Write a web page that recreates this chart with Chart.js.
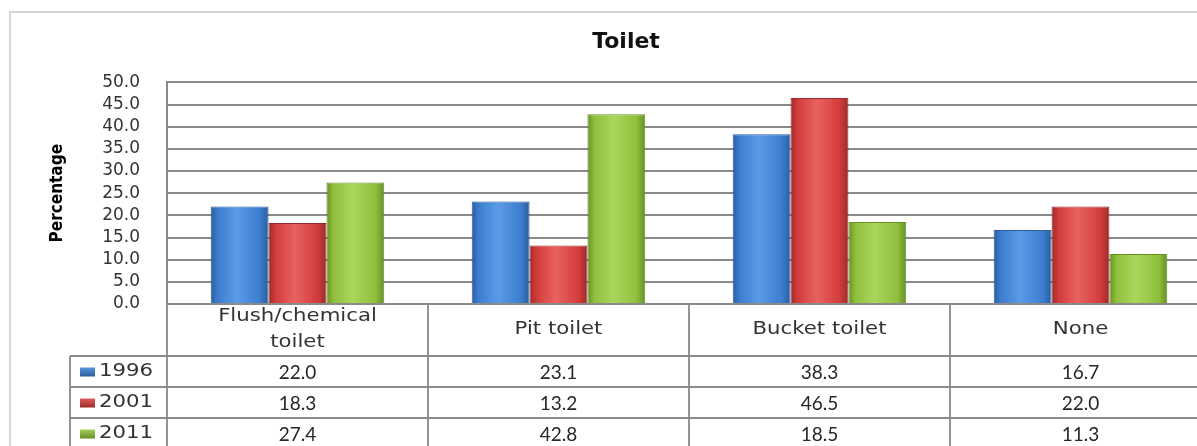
<!DOCTYPE html>
<html>
<head>
<meta charset="utf-8">
<script src="https://cdn.jsdelivr.net/npm/chart.js@4/dist/chart.umd.min.js"></script>
<style>
  html, body { margin: 0; padding: 0; background: #fff; overflow: hidden; }
  #wrap { width: 1197px; height: 446px; overflow: hidden; }
</style>
</head>
<body>
<div id="wrap"><canvas id="toiletChart" width="1252" height="446"></canvas></div>
<script>
// data
const categories = [["Flush/chemical", "toilet"], "Pit toilet", "Bucket toilet", "None"];
const years = ["1996", "2001", "2011"];
const v1996 = [22.0, 23.1, 38.3, 16.7];
const v2001 = [18.3, 13.2, 46.5, 22.0];
const v2011 = [27.4, 42.8, 18.5, 11.3];
const yMin = 0, yMax = 50, yStep = 5;

const catPct = 0.665;
// colours for each year : edge, main, highlight
const palette = [
  ["#2b5d9c", "#3b7dcf", "#5b9be6"],
  ["#9c2a2a", "#d23c3b", "#e8625f"],
  ["#678f26", "#8fbf3b", "#abd65d"]
];

function barFill(d) {
  return function (c) {
    const chart = c.chart;
    const xs = chart.scales.x;
    if (c.dataIndex === undefined || !xs || !xs.width) return palette[d][1];
    const w = xs.width / categories.length * catPct / years.length;
    const cx = xs.getPixelForValue(c.dataIndex) + (d - (years.length - 1) / 2) * w;
    const g = chart.ctx.createLinearGradient(cx - w / 2, 0, cx + w / 2, 0);
    g.addColorStop(0, palette[d][0]);
    g.addColorStop(0.12, palette[d][1]);
    g.addColorStop(0.45, palette[d][2]);
    g.addColorStop(0.85, palette[d][1]);
    g.addColorStop(1, palette[d][0]);
    return g;
  };
}

// frame + data table under the plot
const tablePlugin = {
  id: "tablePlugin",
  beforeDraw(chart) {
    const ctx = chart.ctx;
    ctx.save();
    ctx.strokeStyle = "#d6d6d6";
    ctx.lineWidth = 2;
    ctx.strokeRect(10, 12, chart.width - 20, chart.height + 20);
    ctx.restore();
  },
  afterDraw(chart) {
    const ctx = chart.ctx;
    const xs = chart.scales.x;
    const area = chart.chartArea;
    const colW = xs.width / categories.length;
    const top = area.bottom;
    const headH = 52, rowH = 31, keyLeft = 70;
    const rowsTop = top + headH;
    const bottom = rowsTop + rowH * years.length;

    ctx.save();
    ctx.strokeStyle = "#8a8a8a";
    ctx.lineWidth = 1.8;
    ctx.beginPath();
    // vertical lines
    for (let i = 0; i <= categories.length; i++) {
      const x = Math.round(xs.left + colW * i);
      ctx.moveTo(x, top);
      ctx.lineTo(x, bottom);
    }
    ctx.moveTo(keyLeft, rowsTop);
    ctx.lineTo(keyLeft, bottom);
    // horizontal lines
    for (let r = 0; r <= years.length; r++) {
      const y = Math.round(rowsTop + rowH * r);
      ctx.moveTo(keyLeft, y);
      ctx.lineTo(xs.right, y);
    }
    ctx.stroke();

    // header labels (slightly stretched like the original)
    ctx.fillStyle = "#333";
    ctx.font = "17px 'DejaVu Sans'";
    ctx.textAlign = "center";
    ctx.textBaseline = "middle";
    categories.forEach((lab, i) => {
      const cx = xs.getPixelForValue(i);
      const lines = Array.isArray(lab) ? lab : [lab];
      const lh = 26;
      const y0 = top + headH / 2 - (lines.length - 1) * lh / 2;
      lines.forEach((t, k) => {
        ctx.save();
        ctx.translate(cx, y0 + k * lh);
        ctx.scale(1.25, 1);
        ctx.fillText(t, 0, 0);
        ctx.restore();
      });
    });

    const series = [v1996, v2001, v2011];
    years.forEach((yr, r) => {
      const cy = rowsTop + rowH * r + rowH / 2;
      // legend key
      const kg = ctx.createLinearGradient(0, cy - 5, 0, cy + 5);
      kg.addColorStop(0, palette[r][2]);
      kg.addColorStop(1, palette[r][0]);
      ctx.fillStyle = kg;
      ctx.fillRect(80, cy - 4, 15, 9);
      ctx.fillStyle = "#333";
      ctx.font = "17px 'DejaVu Sans'";
      ctx.textAlign = "left";
      ctx.save();
      ctx.translate(99, cy);
      ctx.scale(1.25, 1);
      ctx.fillText(yr, 0, 0);
      ctx.restore();
      // values
      ctx.font = "19px Lato";
      ctx.textAlign = "center";
      ctx.fillStyle = "#262626";
      series[r].forEach((v, i) => {
        ctx.fillText(v.toFixed(1), xs.getPixelForValue(i), cy + 1);
      });
    });
    ctx.restore();
  }
};

const chart = new Chart(document.getElementById("toiletChart"), {
  type: "bar",
  data: {
    labels: categories,
    datasets: [v1996, v2001, v2011].map((vals, d) => ({
      label: years[d],
      data: vals,
      backgroundColor: barFill(d),
      borderColor: palette[d][0],
      borderWidth: 1,
      categoryPercentage: catPct,
      barPercentage: 1.0
    }))
  },
  options: {
    responsive: false,
    animation: false,
    devicePixelRatio: 1,
    layout: { padding: 0 },
    plugins: {
      legend: { display: false },
      tooltip: { enabled: false },
      title: {
        display: true,
        text: "Toilet",
        color: "#111",
        font: { family: "'DejaVu Sans'", size: 22, weight: "bold" },
        padding: { top: 29, bottom: 27 }
      }
    },
    scales: {
      x: {
        grid: { display: false },
        border: { display: false },
        ticks: { display: false },
        afterFit: (s) => { s.height = 142; }
      },
      y: {
        min: yMin,
        max: yMax,
        ticks: {
          stepSize: yStep,
          autoSkip: false,
          padding: 27,
          color: "#333",
          font: { family: "'DejaVu Sans'", size: 17 },
          callback: (v) => Number(v).toFixed(1)
        },
        grid: { color: "#8a8a8a", lineWidth: 2, drawTicks: false },
        border: { display: true, color: "#8a8a8a", width: 2 },
        title: {
          display: true,
          text: "Percentage",
          color: "#000",
          font: { family: "'Liberation Sans Narrow', 'DejaVu Sans Condensed', 'Liberation Sans'", size: 17, weight: "bold" },
          padding: { top: 47, bottom: 0 }
        },
        afterFit: (s) => { s.width = 167; }
      },
      yRight: {
        position: "right",
        grid: { display: false },
        border: { display: false },
        ticks: { display: false },
        afterFit: (s) => { s.width = 41; }
      }
    }
  },
  plugins: [tablePlugin]
});
</script>
</body>
</html>
